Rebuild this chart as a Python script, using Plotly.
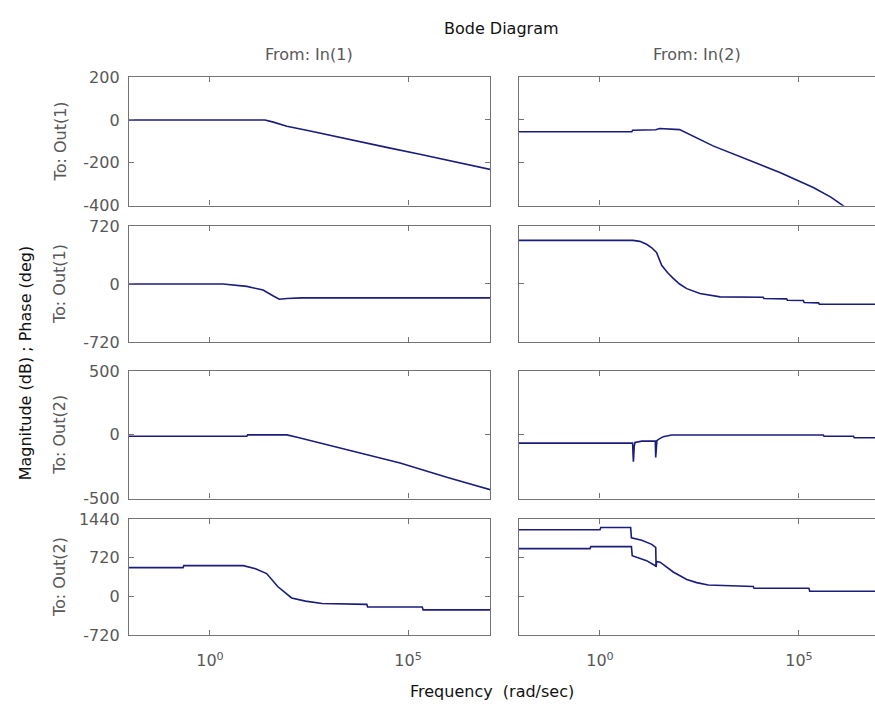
import numpy as np
import plotly.graph_objects as go

# ---------------- data (log10 of frequency in rad/sec, value) ----------------
# Row 1: To Out(1) magnitude (dB)
lw_mag_in1_out1 = [-2.1, 1.39, 1.6, 1.94, 2.5, 3.62, 4.46, 5.3, 6.14, 7.1]
mag_in1_out1 = [0, 0, -10, -29, -50, -96, -128, -160, -195, -232]

lw_mag_in2_out1 = [-2.1, 0.8, 0.82, 1.4, 1.5, 1.7, 2.0, 2.84, 3.7, 4.52, 5.36, 5.8, 6.07, 6.6]
mag_in2_out1 = [-55, -55, -48, -46, -40, -42, -45, -121, -185, -245, -315, -360, -395, -470]

# Row 2: To Out(1) phase (deg)
lw_ph_in1_out1 = [-2.1, 0.33, 0.93, 1.34, 1.6, 1.75, 1.95, 2.3, 7.1]
ph_in1_out1 = [0, 0, -30, -75, -150, -190, -180, -172, -172]

lw_ph_in2_out1 = [-2.1, 0.83, 1.0, 1.17, 1.3, 1.42, 1.55, 1.7, 1.84, 2.0, 2.18, 2.51,
                  3.02, 4.1, 4.12, 4.69, 4.71, 5.11, 5.13, 5.49, 5.51, 7.0]
ph_in2_out1 = [542, 542, 530, 494, 450, 393, 232, 140, 70, 0, -58, -119,
               -160, -165, -180, -185, -203, -205, -230, -235, -252, -252]

# Row 3: To Out(2) magnitude (dB)
lw_mag_in1_out2 = [-2.1, 0.93, 0.95, 1.94, 2.2, 3.5, 4.8, 6.0, 7.1]
mag_in1_out2 = [-11, -11, 0, 0, -19, -118, -220, -335, -432]

lw_mag_in2_out2 = [-2.1, 0.82, 0.83, 0.84, 0.86, 0.88, 1.05, 1.39, 1.40, 1.41, 1.43,
                   1.47, 1.59, 1.80, 5.61, 5.63, 6.37, 6.39, 7.0]
mag_in2_out2 = [-65, -65, -150, -210, -90, -60, -49, -49, -177, -120, -45,
                -35, -14, -1, -1, -11, -11, -23, -23]

# Row 4: To Out(2) phase (deg)
lw_ph_in1_out2 = [-2.1, -0.68, -0.66, 0.84, 1.15, 1.43, 1.71, 2.06, 2.41, 2.83,
                  3.96, 3.98, 5.36, 5.38, 7.1]
ph_in1_out2 = [535, 535, 572, 572, 514, 424, 182, -30, -90, -133,
               -151, -199, -199, -253, -253]

lw_ph_in2_out2_a = [-2.1, 0.0, 0.02, 0.77, 0.79, 1.05, 1.3, 1.40, 1.41, 1.42, 1.51,
                    1.84, 2.18, 2.43, 2.72, 3.85, 3.87, 5.25, 5.27, 7.0]
ph_in2_out2_a = [1240, 1240, 1283, 1283, 1090, 1046, 968, 913, 545, 650, 636,
                 454, 315, 255, 211, 182, 150, 150, 95, 95]
lw_ph_in2_out2_b = [-2.1, -0.25, -0.23, 0.79, 0.81, 0.9, 1.17, 1.38, 1.41, 1.42]
ph_in2_out2_b = [890, 890, 926, 926, 756, 730, 665, 574, 556, 650]

x_tick_vals = [1, 1e5]
x_tick_text = ["10<sup>0</sup>", "10<sup>5</sup>"]
row_ticks = [[-400, -200, 0, 200], [-720, 0, 720], [-500, 0, 500], [-720, 0, 720, 1440]]
row_ranges = [(-400, 200), (-720, 720), (-500, 500), (-720, 1440)]
col_titles = ["From: In(1)", "From: In(2)"]
row_titles = ["To: Out(1)", "To: Out(1)", "To: Out(2)", "To: Out(2)"]

panels = {
    (0, 0): [(lw_mag_in1_out1, mag_in1_out1)],
    (0, 1): [(lw_mag_in2_out1, mag_in2_out1)],
    (1, 0): [(lw_ph_in1_out1, ph_in1_out1)],
    (1, 1): [(lw_ph_in2_out1, ph_in2_out1)],
    (2, 0): [(lw_mag_in1_out2, mag_in1_out2)],
    (2, 1): [(lw_mag_in2_out2, mag_in2_out2)],
    (3, 0): [(lw_ph_in1_out2, ph_in1_out2)],
    (3, 1): [(lw_ph_in2_out2_b, ph_in2_out2_b), (lw_ph_in2_out2_a, ph_in2_out2_a)],
}

# ---------------- layout geometry ----------------
W, H = 875, 715
col_px = [(129, 490), (519, 875)]
col_rng = [(-2.045, 7.07), (-2.035, 6.91)]
row_px = [(70, 202), (223, 342), (372, 503), (524, 643)]

LINE_COLOR = "#1c1c7c"
AX_COLOR = "#737373"
TXT_GRAY = "#585858"
FONT = "DejaVu Sans"

fig = go.Figure()
layout = dict(
    width=W, height=H, margin=dict(l=0, r=0, t=0, b=0),
    paper_bgcolor="white", plot_bgcolor="white", showlegend=False,
    font=dict(family=FONT, size=15, color=TXT_GRAY),
)

for (r, c), series in panels.items():
    k = r * 2 + c + 1
    xa = "x" if k == 1 else f"x{k}"
    ya = "y" if k == 1 else f"y{k}"
    for lw, vals in series:
        fig.add_trace(go.Scatter(
            x=np.power(10.0, np.array(lw)), y=vals, mode="lines",
            line=dict(color=LINE_COLOR, width=1.6), xaxis=xa, yaxis=ya,
            hoverinfo="skip"))
    x0, x1 = col_px[c]
    t0, b0 = row_px[r]
    layout["xaxis" if k == 1 else f"xaxis{k}"] = dict(
        type="log", range=list(col_rng[c]), domain=[x0 / W, x1 / W],
        anchor=ya, showline=True, mirror="ticks", linecolor=AX_COLOR, linewidth=1.4,
        ticks="inside", ticklen=5, tickcolor=AX_COLOR, tickwidth=1,
        tickvals=x_tick_vals, ticktext=x_tick_text, showticklabels=(r == 3),
        tickfont=dict(family=FONT, size=16, color=TXT_GRAY), ticklabelstandoff=11,
        showgrid=False, zeroline=False, fixedrange=True)
    layout["yaxis" if k == 1 else f"yaxis{k}"] = dict(
        range=list(row_ranges[r]), domain=[1 - b0 / H, 1 - t0 / H],
        anchor=xa, showline=True, mirror=("ticks" if c == 0 else False),
        linecolor=AX_COLOR, linewidth=1.4,
        ticks="inside", ticklen=5, tickcolor=AX_COLOR, tickwidth=1,
        tickvals=row_ticks[r], ticktext=[str(v) for v in row_ticks[r]],
        showticklabels=(c == 0),
        tickfont=dict(family=FONT, size=16, color=TXT_GRAY), ticklabelstandoff=5,
        showgrid=False, zeroline=False, fixedrange=True)

annotations = []
def ann(text, xpx, ypx, color, size, angle=0):
    annotations.append(dict(text=text, x=xpx / W, y=1 - ypx / H, xref="paper", yref="paper",
                            showarrow=False, xanchor="center", yanchor="middle",
                            textangle=angle, font=dict(family=FONT, size=size, color=color)))

ann("Bode Diagram", 501, 20, "#111111", 16)
ann(col_titles[0], 309, 47, TXT_GRAY, 16)
ann(col_titles[1], 697, 47, TXT_GRAY, 16)
for r, t in enumerate(row_titles):
    ann(t, 60, (row_px[r][0] + row_px[r][1]) / 2, TXT_GRAY, 16, -90)
ann("Magnitude (dB) ; Phase (deg)", 25, 364, "#111111", 16, -90)
ann("Frequency  (rad/sec)", 492, 701, "#111111", 16)
layout["annotations"] = annotations

fig.update_layout(**layout)
fig.write_html("out.html")
